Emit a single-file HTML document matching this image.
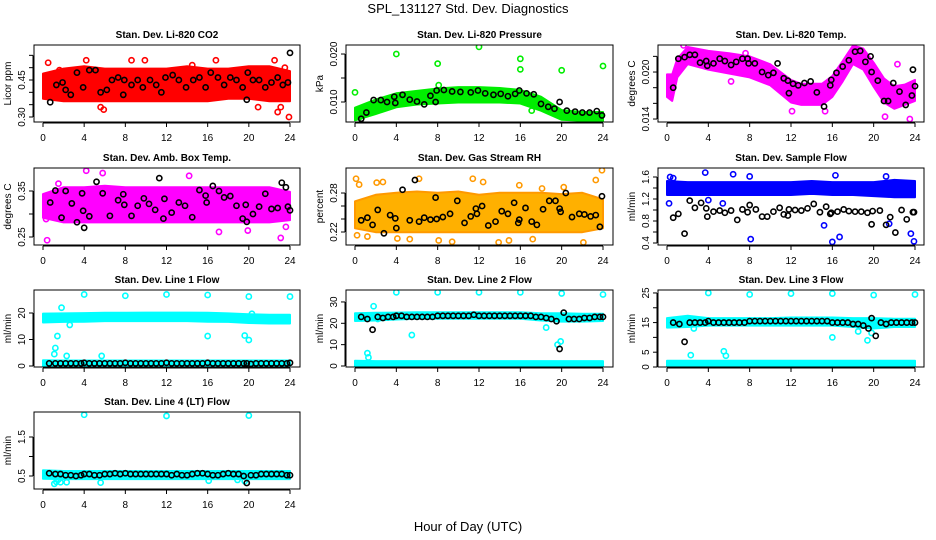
<!DOCTYPE html>
<html><head><meta charset="utf-8"><style>
body{margin:0;background:#fff;}
svg{display:block;font-family:"Liberation Sans",Arial,sans-serif;}
</style></head><body>
<svg id="chart" width="936" height="540" viewBox="0 0 936 540">
<text x="468" y="13" font-size="13" text-anchor="middle">SPL_131127  Std. Dev. Diagnostics</text>
<text x="468" y="531" font-size="13" text-anchor="middle">Hour of Day (UTC)</text>
</svg>
<script>
const hourTicks=[0,4,8,12,16,20,24];
const bandHours=[0,2,4,6,8,10,12,14,16,18,20,22,24];
// P1 CO2
const co2Lo=[0.38,0.37,0.37,0.37,0.37,0.37,0.37,0.37,0.37,0.38,0.38,0.37,0.37];
const co2Hi=[0.47,0.49,0.50,0.49,0.49,0.49,0.49,0.50,0.49,0.49,0.50,0.50,0.48];
const co2OutX=[0.5,4.2,8.6,9.9,16.8,22.5,22.8,23.9,5.6,5.9,20.9,23.1,1.6,14.5,0.3,23.5];
const co2OutY=[0.52,0.53,0.53,0.53,0.53,0.53,0.32,0.30,0.34,0.33,0.34,0.34,0.49,0.51,0.45,0.50];
const co2BlkX=[0.7,1.3,1.9,2.2,2.7,3.3,3.9,4.5,5.1,5.6,6.2,6.7,7.3,7.8,7.9,8.6,9.2,9.7,10.4,11.0,11.5,11.9,12.6,13.2,13.9,14.6,15.2,15.8,16.3,17.0,17.6,18.2,18.8,19.4,19.8,19.9,20.4,21.0,21.6,22.2,22.8,23.3,23.8,24.0];
const co2BlkY=[0.36,0.43,0.44,0.41,0.39,0.48,0.42,0.49,0.49,0.40,0.41,0.45,0.46,0.39,0.45,0.43,0.45,0.42,0.45,0.43,0.40,0.46,0.47,0.45,0.42,0.45,0.46,0.42,0.48,0.46,0.43,0.46,0.45,0.42,0.37,0.48,0.45,0.45,0.42,0.44,0.46,0.43,0.44,0.56];
// P2 pressure
const prLo=[0.0065,0.0078,0.0092,0.0098,0.0100,0.0102,0.0102,0.0102,0.0100,0.0085,0.0066,0.0064,0.0064];
const prHi=[0.0085,0.0102,0.0115,0.0120,0.0125,0.0128,0.0128,0.0126,0.0122,0.0108,0.0080,0.0076,0.0076];
const prOutX=[0,4,8,8.1,12,16,16,20,24,17.1,0.4];
const prOutY=[0.012,0.020,0.018,0.0135,0.0215,0.019,0.0168,0.0166,0.0175,0.0082,0.0068];
const prBlkX=[0.6,1.1,1.8,2.5,3.1,3.8,3.9,4.6,5.3,6.0,6.7,7.3,7.8,7.9,8.6,9.4,10.2,11.2,11.9,12.6,13.4,14.1,14.8,15.5,15.9,16.6,17.3,18.0,18.7,19.3,19.8,20.5,21.3,22.0,22.7,23.4,23.9];
const prBlkY=[0.0065,0.0078,0.0104,0.0104,0.0100,0.0111,0.0098,0.0115,0.0105,0.0101,0.0095,0.0113,0.0100,0.0124,0.0125,0.0122,0.0121,0.0120,0.0124,0.0118,0.0115,0.0117,0.0112,0.0117,0.0124,0.0118,0.0116,0.0096,0.0090,0.0086,0.0100,0.0082,0.0080,0.0078,0.0078,0.0081,0.0072];
// P3 Li-820 temp
const tmpH=[0,0.5,1,2,4,6,8,10,12,13,14,15,16,17,18,19,20,21,22,23,24];
const tmpLo=[0.0170,0.0165,0.0195,0.0212,0.0205,0.0200,0.0195,0.0185,0.0163,0.0160,0.0160,0.0160,0.0170,0.0190,0.0212,0.0205,0.0183,0.0163,0.0155,0.0160,0.0165];
const tmpHi=[0.0195,0.0195,0.0215,0.0230,0.0225,0.0222,0.0218,0.0208,0.0188,0.0183,0.0183,0.0183,0.0193,0.0212,0.0232,0.0228,0.0210,0.0190,0.0180,0.0182,0.0188];
const tmpOutX=[1.6,7.6,12.1,15.3,21.1,22.3,23.5,6.2];
const tmpOutY=[0.0234,0.0224,0.0150,0.0150,0.0143,0.0210,0.0140,0.0188];
const tmpBlkX=[0.6,1.1,1.7,2.2,2.7,3.2,3.8,3.9,4.5,5.1,5.6,6.2,6.7,7.3,7.8,7.9,8.5,9.2,9.8,10.3,10.7,11.3,11.7,11.8,12.2,12.7,13.3,13.9,14.5,15.2,15.8,15.9,16.4,17.0,17.6,18.2,18.7,19.2,19.7,19.8,20.4,21.0,21.4,21.9,22.5,23.1,23.7,23.8,24.0];
const tmpBlkY=[0.0180,0.0217,0.0219,0.0222,0.0222,0.0212,0.0214,0.0208,0.0211,0.0217,0.0214,0.0209,0.0213,0.0217,0.0217,0.0211,0.0211,0.0200,0.0196,0.0199,0.0211,0.0192,0.0189,0.0173,0.0185,0.0183,0.0186,0.0188,0.0174,0.0156,0.0183,0.0190,0.0199,0.0207,0.0215,0.0226,0.0227,0.0213,0.0220,0.0200,0.0189,0.0163,0.0163,0.0186,0.0175,0.0158,0.0170,0.0203,0.0182];
// P4 amb box temp
const ambLo=[0.295,0.285,0.285,0.285,0.285,0.285,0.285,0.285,0.285,0.285,0.285,0.285,0.290];
const ambHi=[0.340,0.355,0.355,0.358,0.355,0.355,0.355,0.355,0.355,0.355,0.355,0.355,0.345];
const ambOutX=[0.4,4.2,5.8,14.2,17.1,23.1,19.9,23.6,0.3,1.5];
const ambOutY=[0.243,0.394,0.389,0.383,0.261,0.248,0.264,0.272,0.289,0.366];
const ambBlkX=[0.7,1.2,1.8,2.2,2.8,3.3,3.8,3.9,4.0,4.5,5.2,5.8,6.5,7.3,7.8,7.9,8.6,9.2,9.8,10.3,10.9,11.3,11.7,11.8,12.5,13.2,13.8,14.5,15.2,15.8,15.9,16.5,17.1,17.6,18.2,18.8,19.4,19.7,19.8,20.4,21.0,21.6,22.2,22.8,23.2,23.6,23.8,24.0];
const ambBlkY=[0.325,0.351,0.292,0.350,0.323,0.282,0.345,0.307,0.270,0.295,0.370,0.345,0.296,0.330,0.343,0.320,0.296,0.318,0.334,0.322,0.309,0.378,0.290,0.333,0.303,0.325,0.318,0.293,0.352,0.340,0.325,0.361,0.350,0.336,0.339,0.318,0.290,0.320,0.283,0.300,0.316,0.344,0.311,0.313,0.368,0.358,0.316,0.308];
// P5 gas stream RH
const rhLo=[0.228,0.222,0.222,0.222,0.222,0.222,0.222,0.222,0.222,0.222,0.222,0.222,0.228];
const rhHi=[0.265,0.275,0.278,0.280,0.278,0.280,0.275,0.278,0.278,0.278,0.276,0.278,0.268];
const rhOutX=[0.1,0.4,1.2,2.1,2.7,5.3,6.2,8.1,9.4,11.4,12.4,13.9,14.9,15.9,17.2,18.1,20.2,22.1,23.3,23.9,0.2,4.1];
const rhOutY=[0.302,0.293,0.213,0.296,0.297,0.209,0.302,0.207,0.205,0.302,0.297,0.204,0.207,0.292,0.209,0.287,0.289,0.204,0.300,0.315,0.215,0.210];
const rhBlkX=[0.6,1.2,1.7,2.2,2.8,3.4,3.9,4.0,4.6,5.3,5.8,6.2,6.7,7.3,7.8,7.9,8.5,9.2,9.9,10.6,11.2,11.7,11.8,12.3,12.9,13.6,14.2,14.8,15.4,15.8,15.9,16.5,17.1,17.6,18.2,18.8,19.4,19.8,19.9,20.4,21.0,21.7,22.2,22.8,23.3,23.7,23.9];
const rhBlkY=[0.238,0.242,0.231,0.254,0.218,0.246,0.241,0.226,0.285,0.238,0.300,0.236,0.242,0.239,0.273,0.240,0.243,0.248,0.268,0.234,0.244,0.256,0.248,0.260,0.230,0.236,0.252,0.248,0.265,0.234,0.239,0.257,0.236,0.231,0.255,0.268,0.268,0.256,0.251,0.280,0.243,0.248,0.247,0.244,0.246,0.228,0.275];
// P6 sample flow
const sfLo=[1.30,1.30,1.30,1.30,1.30,1.30,1.30,1.32,1.30,1.30,1.28,1.26,1.26];
const sfHi=[1.50,1.48,1.48,1.48,1.48,1.48,1.48,1.50,1.48,1.48,1.48,1.52,1.50];
const sfOutX=[0.2,0.6,3.7,6.4,8.0,8.1,15.2,16.0,16.3,16.7,21.2,23.6,23.9,4.0,5.4,21.5,0.3];
const sfOutY=[1.12,1.58,1.68,1.65,1.61,0.47,0.72,0.42,1.63,0.51,1.61,0.57,0.43,1.18,1.12,0.75,1.60];
const sfBlkX=[0.6,1.1,1.7,2.2,2.7,3.3,3.8,3.9,4.5,5.1,5.6,6.2,6.8,7.3,7.8,8.0,8.6,9.2,9.7,10.3,10.9,11.3,11.7,11.8,12.4,13.0,13.6,14.2,14.8,15.4,15.8,15.9,16.5,17.1,17.6,18.2,18.8,19.4,19.8,19.9,20.6,21.2,21.6,22.1,22.7,23.2,23.8,23.9];
const sfBlkY=[0.86,0.93,0.57,1.17,1.04,1.13,1.03,0.88,0.97,0.99,0.95,0.99,0.82,1.01,0.96,1.09,1.01,0.88,0.88,0.97,1.04,0.92,0.90,1.01,1.00,0.99,1.03,1.11,0.96,1.06,0.93,0.95,0.97,1.01,0.98,0.97,0.97,0.95,0.74,0.98,0.99,0.73,0.87,0.59,1.00,0.83,0.96,0.96];
// flow common black hours
const flowHours=[0.6,1.2,1.7,2.2,2.7,3.2,3.7,4.0,4.5,5.0,5.5,6.0,6.5,7.0,7.5,8.0,8.5,9.0,9.5,10.0,10.5,11.0,11.5,12.0,12.5,13.0,13.5,14.0,14.5,15.0,15.5,16.0,16.5,17.0,17.5,18.0,18.5,19.0,19.5,19.8,20.2,20.7,21.2,21.7,22.2,22.7,23.2,23.7,24.0];
// P7 line1
const l1Lo=[17.0,17.2,17.3,17.5,17.5,17.5,17.5,17.5,17.3,17.2,16.8,16.6,16.6];
const l1Hi=[19.2,19.3,19.4,19.5,19.5,19.6,19.6,19.6,19.5,19.3,19.0,18.8,18.8];
const l1LoLo=[0.6,0.7,0.7,0.7,0.7,0.7,0.7,0.7,0.7,0.7,0.7,0.7,0.7];
const l1LoHi=[1.6,1.5,1.5,1.5,1.5,1.5,1.5,1.5,1.5,1.5,1.5,1.5,1.5];
const l1OutX=[4,8,12,16,20,24,1.8,1.4,1.2,1.1,2.3,2.6,5.7,16,19.6,20,20.3];
const l1OutY=[27,26.5,27,26.8,26.2,26.2,22,11.3,6.8,4.5,3.8,15.5,3.8,11.3,11.5,9.8,19.7];
const l1BlkY=[1.0,1.0,1.0,1.0,1.0,1.0,1.0,1.2,1.0,1.0,1.0,1.0,1.0,1.0,1.0,1.2,1.0,1.0,1.0,1.0,1.0,1.0,1.0,1.2,1.0,1.0,1.0,1.0,1.0,1.0,1.0,1.2,1.0,1.0,1.0,1.0,1.0,1.0,1.0,1.0,0.8,1.0,1.0,1.0,1.0,1.0,1.0,1.0,1.2];
// P8 line2
const l2Lo=[21.8,22.0,22.5,22.8,22.8,22.8,22.8,22.8,22.8,22.0,21.5,21.5,21.8];
const l2Hi=[24.0,24.2,24.3,24.5,24.5,24.5,24.5,24.5,24.5,24.0,24.0,23.8,23.8];
const l2LoLo=[0.3,0.3,0.3,0.3,0.3,0.3,0.3,0.3,0.3,0.3,0.3,0.3,0.3];
const l2LoHi=[1.8,1.6,1.6,1.6,1.6,1.6,1.6,1.6,1.6,1.6,1.6,1.6,1.6];
const l2OutX=[4,8,12,16,20,24,1.8,1.2,1.3,5.5,18.5,19.6,19.9,2.2];
const l2OutY=[34.5,34.5,34.5,34.5,34,33.5,28,6,4,14.5,18,10,11.5,22];
const l2BlkY=[23,22,17,23,22.5,23,23,23.5,23.5,23,23,23,23,23,23,23.5,23.5,23.5,23.5,23.5,23.5,23.5,24,23.5,23.5,23.5,23.5,23.5,23.5,23.5,23.5,23.5,23.5,23.5,23,23,22.5,22,21,8,25,22,22,22,22.5,22.5,23,23,23];
// P9 line3
const l3Lo=[13.8,14.0,14.5,14.5,14.5,14.5,14.5,14.5,14.5,14.0,13.5,14.0,14.0];
const l3Hi=[16.0,16.8,16.0,16.0,16.0,16.0,16.2,16.2,16.2,16.0,16.0,15.8,15.8];
const l3LoLo=[0.5,0.5,0.5,0.5,0.5,0.5,0.5,0.5,0.5,0.5,0.5,0.5,0.5];
const l3LoHi=[1.6,1.6,1.6,1.6,1.6,1.6,1.6,1.6,1.6,1.6,1.6,1.6,1.6];
const l3OutX=[4,8,12,16,20,24,2.3,2.6,5.5,5.7,16,18.5,19.4,19.8];
const l3OutY=[25,24.5,24.8,24.8,24.3,24.5,4,13,5.3,3.8,10,12,9,11.5];
const l3BlkY=[15,14.5,8.5,15,15,15,15,15.5,15,15,15,15,15,15,15,15.5,15.5,15.5,15.5,15.5,15.5,15.5,15.5,15.5,15.5,15.5,15.5,15.5,15.5,15.5,15.5,15,15,15,15,14.5,14.5,14,13,16.5,10.5,15,14.5,15,15,15,15,15,15];
// P10 line4
const l4Lo=[0.47,0.46,0.46,0.46,0.46,0.46,0.46,0.46,0.46,0.46,0.46,0.46,0.46];
const l4Hi=[0.61,0.59,0.59,0.59,0.59,0.59,0.59,0.59,0.59,0.59,0.59,0.59,0.59];
const l4OutX=[4,12,20,1.1,1.3,1.7,2.3,5.6,16.1,18.9,19.6,1.5];
const l4OutY=[2.07,2.04,2.05,0.30,0.35,0.34,0.34,0.33,0.38,0.40,0.37,0.41];
const l4BlkY=[0.57,0.55,0.55,0.52,0.52,0.50,0.52,0.55,0.55,0.52,0.52,0.55,0.55,0.57,0.55,0.57,0.55,0.55,0.55,0.55,0.55,0.55,0.55,0.55,0.52,0.55,0.52,0.52,0.55,0.57,0.57,0.55,0.52,0.52,0.55,0.57,0.55,0.55,0.50,0.32,0.52,0.52,0.55,0.55,0.55,0.55,0.55,0.52,0.52];

const NS='http://www.w3.org/2000/svg';
const svg=document.getElementById('chart');
function mk(tag,attrs,parent){const e=document.createElementNS(NS,tag);for(const k in attrs)e.setAttribute(k,attrs[k]);(parent||svg).appendChild(e);return e;}

const cols=[{L:34,R:300,x0:43,x24:290},{L:346,R:613,x0:355,x24:603},{L:658,R:924,x0:667,x24:915}];
const rows=[{T:45,B:122},{T:168,B:245},{T:290,B:367},{T:412,B:489}];

const panels=[
 {name:'co2',title:'Stan. Dev. Li-820 CO2',ylab:'Licor ppm',c:0,r:0,ymin:0.2797,ymax:0.5919,ticks:[0.30,0.35,0.40,0.45,0.50,0.55],labels:[0.30,0.45],dec:2,color:'#ff0000',bands:[[bandHours,co2Lo,co2Hi]],ox:co2OutX,oy:co2OutY,bx:co2BlkX,by:co2BlkY},
 {name:'pressure',title:'Stan. Dev. Li-820 Pressure',ylab:'kPa',c:1,r:0,ymin:0.00583,ymax:0.02188,ticks:[0.010,0.015,0.020],labels:[0.010,0.020],dec:3,color:'#00ee00',bands:[[bandHours,prLo,prHi]],ox:prOutX,oy:prOutY,bx:prBlkX,by:prBlkY},
 {name:'li820-temp',title:'Stan. Dev. Li-820 Temp.',ylab:'degrees C',c:2,r:0,ymin:0.01362,ymax:0.02345,ticks:[0.014,0.016,0.018,0.020,0.022],labels:[0.014,0.020],dec:3,color:'#ff00ff',bands:[[tmpH,tmpLo,tmpHi]],ox:tmpOutX,oy:tmpOutY,bx:tmpBlkX,by:tmpBlkY},
 {name:'amb-box-temp',title:'Stan. Dev. Amb. Box Temp.',ylab:'degrees C',c:0,r:1,ymin:0.2326,ymax:0.400,ticks:[0.25,0.30,0.35],labels:[0.25,0.35],dec:2,color:'#ff00ff',bands:[[bandHours,ambLo,ambHi]],ox:ambOutX,oy:ambOutY,bx:ambBlkX,by:ambBlkY},
 {name:'gas-stream-rh',title:'Stan. Dev. Gas Stream RH',ylab:'percent',c:1,r:1,ymin:0.200,ymax:0.3185,ticks:[0.22,0.24,0.26,0.28],labels:[0.22,0.28],dec:2,color:'#ffb000',pc:'#ff9900',bands:[[bandHours,rhLo,rhHi]],ox:rhOutX,oy:rhOutY,bx:rhBlkX,by:rhBlkY},
 {name:'sample-flow',title:'Stan. Dev. Sample Flow',ylab:'ml/min',c:2,r:1,ymin:0.3636,ymax:1.7636,ticks:[0.4,0.6,0.8,1.0,1.2,1.4,1.6],labels:[0.4,0.8,1.2,1.6],dec:1,color:'#0000ff',bands:[[bandHours,sfLo,sfHi]],ox:sfOutX,oy:sfOutY,bx:sfBlkX,by:sfBlkY},
 {name:'line1-flow',title:'Stan. Dev. Line 1 Flow',ylab:'ml/min',c:0,r:2,ymin:-0.377,ymax:28.68,ticks:[0,10,20],labels:[0,10,20],dec:0,color:'#00ffff',bands:[[bandHours,l1Lo,l1Hi],[bandHours,l1LoLo,l1LoHi]],ox:l1OutX,oy:l1OutY,bx:flowHours,by:l1BlkY},
 {name:'line2-flow',title:'Stan. Dev. Line 2 Flow',ylab:'ml/min',c:1,r:2,ymin:-0.47,ymax:35.6,ticks:[0,10,20,30],labels:[0,10,20,30],dec:0,color:'#00ffff',bands:[[bandHours,l2Lo,l2Hi],[bandHours,l2LoLo,l2LoHi]],ox:l2OutX,oy:l2OutY,bx:flowHours,by:l2BlkY},
 {name:'line3-flow',title:'Stan. Dev. Line 3 Flow',ylab:'ml/min',c:2,r:2,ymin:0,ymax:26.0,ticks:[0,5,10,15,20,25],labels:[0,5,15,25],dec:0,color:'#00ffff',bands:[[bandHours,l3Lo,l3Hi],[bandHours,l3LoLo,l3LoHi]],ox:l3OutX,oy:l3OutY,bx:flowHours,by:l3BlkY},
 {name:'line4-flow',title:'Stan. Dev. Line 4 (LT) Flow',ylab:'ml/min',c:0,r:3,ymin:0.167,ymax:2.141,ticks:[0.5,1.0,1.5],labels:[0.5,1.5],dec:1,color:'#00ffff',bands:[[bandHours,l4Lo,l4Hi]],ox:l4OutX,oy:l4OutY,bx:flowHours,by:l4BlkY}
];

panels.forEach(p=>{
  const C=cols[p.c],R=rows[p.r];
  const xs=h=>C.x0+(C.x24-C.x0)*h/24;
  const ys=v=>R.B-(v-p.ymin)/(p.ymax-p.ymin)*(R.B-R.T);
  const g=mk('g',{});
  
  
  const t=mk('text',{x:(C.L+C.R)/2,y:R.T-7,'font-size':'10','font-weight':'bold','text-anchor':'middle'},g);
  t.textContent=p.title;
  
  
  const cid='clip-'+p.name;
  const cp=mk('clipPath',{id:cid},g);mk('rect',{x:C.L,y:R.T,width:C.R-C.L,height:R.B-R.T},cp);
  const pg=mk('g',{'clip-path':'url(#'+cid+')'},g);
  p.bands.forEach(b=>{
    const [H,lo,hi]=b;
    let d='';
    H.forEach((h,i)=>{d+=(i?'L':'M')+xs(h).toFixed(1)+','+(ys(hi[i])-1.5).toFixed(1);});
    for(let i=H.length-1;i>=0;i--)d+='L'+xs(H[i]).toFixed(1)+','+(ys(lo[i])+1.5).toFixed(1);
    const band=mk('path',{d:d+'Z',fill:p.color,stroke:p.pc||p.color,'stroke-width':'2','stroke-linejoin':'round'},pg);
    
    
  });
  p.ox.forEach((h,i)=>{
    const c=mk('circle',{cx:xs(h),cy:ys(p.oy[i]),r:2.6,fill:'none',stroke:p.pc||p.color,'stroke-width':'1.6'},pg);
    
    
  });
  p.bx.forEach((h,i)=>{
    const c=mk('circle',{cx:xs(h),cy:ys(p.by[i]),r:2.6,fill:'none',stroke:'#000','stroke-width':'1.6'},pg);
    
    
  });
  const box=mk('rect',{x:C.L,y:R.T,width:C.R-C.L,height:R.B-R.T,fill:'none',stroke:'#000','stroke-width':'1'},g);
  
  
  const xa=mk('g',{},g);
  
  
  mk('line',{x1:xs(0),x2:xs(24),y1:R.B+1,y2:R.B+1,stroke:'#000'},xa);
  hourTicks.forEach(h=>{
    mk('line',{x1:xs(h),x2:xs(h),y1:R.B+1,y2:R.B+5,stroke:'#000'},xa);
    const tl=mk('text',{x:xs(h),y:R.B+19,'font-size':'10','text-anchor':'middle'},xa);
    tl.textContent=h;
    
    
  });
  const ya=mk('g',{},g);
  
  
  mk('line',{x1:C.L-1,x2:C.L-1,y1:ys(p.ticks[0]),y2:ys(p.ticks[p.ticks.length-1]),stroke:'#000'},ya);
  p.ticks.forEach(v=>{mk('line',{x1:C.L-5,x2:C.L-1,y1:ys(v),y2:ys(v),stroke:'#000'},ya);});
  p.labels.forEach(v=>{
    const tx=C.L-9,ty=ys(v);
    const tl=mk('text',{x:tx,y:ty,'font-size':'10','text-anchor':'middle',transform:'rotate(-90 '+tx+' '+ty+')'},ya);
    tl.textContent=v.toFixed(p.dec);
    
    
  });
  const yx=C.L-23,yy=(R.T+R.B)/2;
  const yl=mk('text',{x:yx,y:yy,'font-size':'10','text-anchor':'middle',transform:'rotate(-90 '+yx+' '+yy+')'},g);
  yl.textContent=p.ylab;
  
  
});
</script>
</body></html>
